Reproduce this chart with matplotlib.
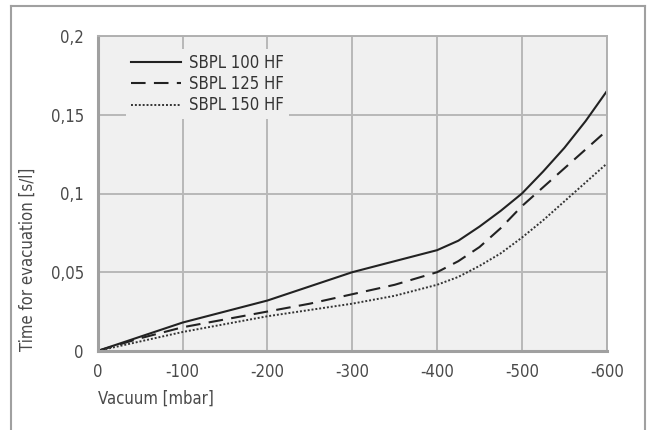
import matplotlib
matplotlib.use("Agg")
import matplotlib.pyplot as plt
from matplotlib.lines import Line2D

# vacuum in mbar
vacuum = [0, -50, -100, -150, -200, -250, -300, -350, -400, -425, -450, -475, -500, -525, -550, -575, -600]
sbpl_100 = [0, 0.009, 0.018, 0.025, 0.032, 0.041, 0.050, 0.057, 0.064, 0.070, 0.079, 0.089, 0.100, 0.114, 0.129, 0.146, 0.165]
sbpl_125 = [0, 0.008, 0.015, 0.020, 0.025, 0.030, 0.036, 0.042, 0.050, 0.057, 0.066, 0.078, 0.092, 0.104, 0.116, 0.128, 0.140]
sbpl_150 = [0, 0.006, 0.012, 0.017, 0.022, 0.026, 0.030, 0.035, 0.042, 0.047, 0.054, 0.062, 0.072, 0.083, 0.095, 0.107, 0.119]

x_ticks = [0, -100, -200, -300, -400, -500, -600]
x_labels = ["0", "-100", "-200", "-300", "-400", "-500", "-600"]
y_ticks = [0, 0.05, 0.1, 0.15, 0.2]
y_labels = ["0", "0,05", "0,1", "0,15", "0,2"]

txt = "#4a4a4a"
fnt = dict(family="DejaVu Sans", stretch="condensed")

fig = plt.figure(figsize=(6.56, 4.30), dpi=100)
ax = fig.add_axes([0.149, 0.184, 0.776, 0.732])
ax.set_facecolor("#f0f0f0")

ax.plot(vacuum, sbpl_100, color="#222222", lw=1.5, ls="-", label="SBPL 100 HF")
ax.plot(vacuum, sbpl_125, color="#222222", lw=1.5, ls=(0, (7, 4)), label="SBPL 125 HF")
ax.plot(vacuum, sbpl_150, color="#333333", lw=1.4, ls=(0, (1, 1)), label="SBPL 150 HF")

ax.set_xlim(0, -600)
ax.set_ylim(0, 0.2)
ax.set_xticks(x_ticks)
ax.set_xticklabels(x_labels, color=txt, fontsize=12, **fnt)
ax.set_yticks(y_ticks)
ax.set_yticklabels(y_labels, color=txt, fontsize=12, **fnt)
ax.tick_params(length=0)
ax.tick_params(axis="x", pad=9)
ax.tick_params(axis="y", pad=10)
ax.grid(True, color="#b8b8b8", lw=1.4)
ax.set_axisbelow(True)

for s in ["left", "bottom"]:
    ax.spines[s].set_color("#a0a0a0")
    ax.spines[s].set_linewidth(2.2)
for s in ["top", "right"]:
    ax.spines[s].set_color("#b0b0b0")
    ax.spines[s].set_linewidth(1.4)

ax.set_xlabel("Vacuum [mbar]", loc="left", color=txt, fontsize=12, labelpad=6, **fnt)
ax.set_ylabel("Time for evacuation [s/l]", loc="bottom", color=txt, fontsize=12, labelpad=10, **fnt)

leg = ax.legend(loc="upper left", bbox_to_anchor=(0.055, 0.96), frameon=True,
                fancybox=False, handlelength=3.0, handletextpad=0.5,
                labelspacing=0.2, borderpad=0.3, borderaxespad=0,
                prop=dict(size=12, **fnt))
leg.get_frame().set_facecolor("#f0f0f0")
leg.get_frame().set_edgecolor("none")
leg.get_frame().set_alpha(1)
for t in leg.get_texts():
    t.set_color("#333333")

# outer frame, open at the bottom
fc = "#a0a0a0"
x0, x1, y1 = 11 / 656, 645 / 656, 1 - 6 / 430
fig.add_artist(Line2D([x0, x0], [0, y1], color=fc, lw=1.5, transform=fig.transFigure))
fig.add_artist(Line2D([x0, x1], [y1, y1], color=fc, lw=1.5, transform=fig.transFigure))
fig.add_artist(Line2D([x1, x1], [y1, 0], color=fc, lw=1.5, transform=fig.transFigure))

fig.savefig("out.png", dpi=100)
